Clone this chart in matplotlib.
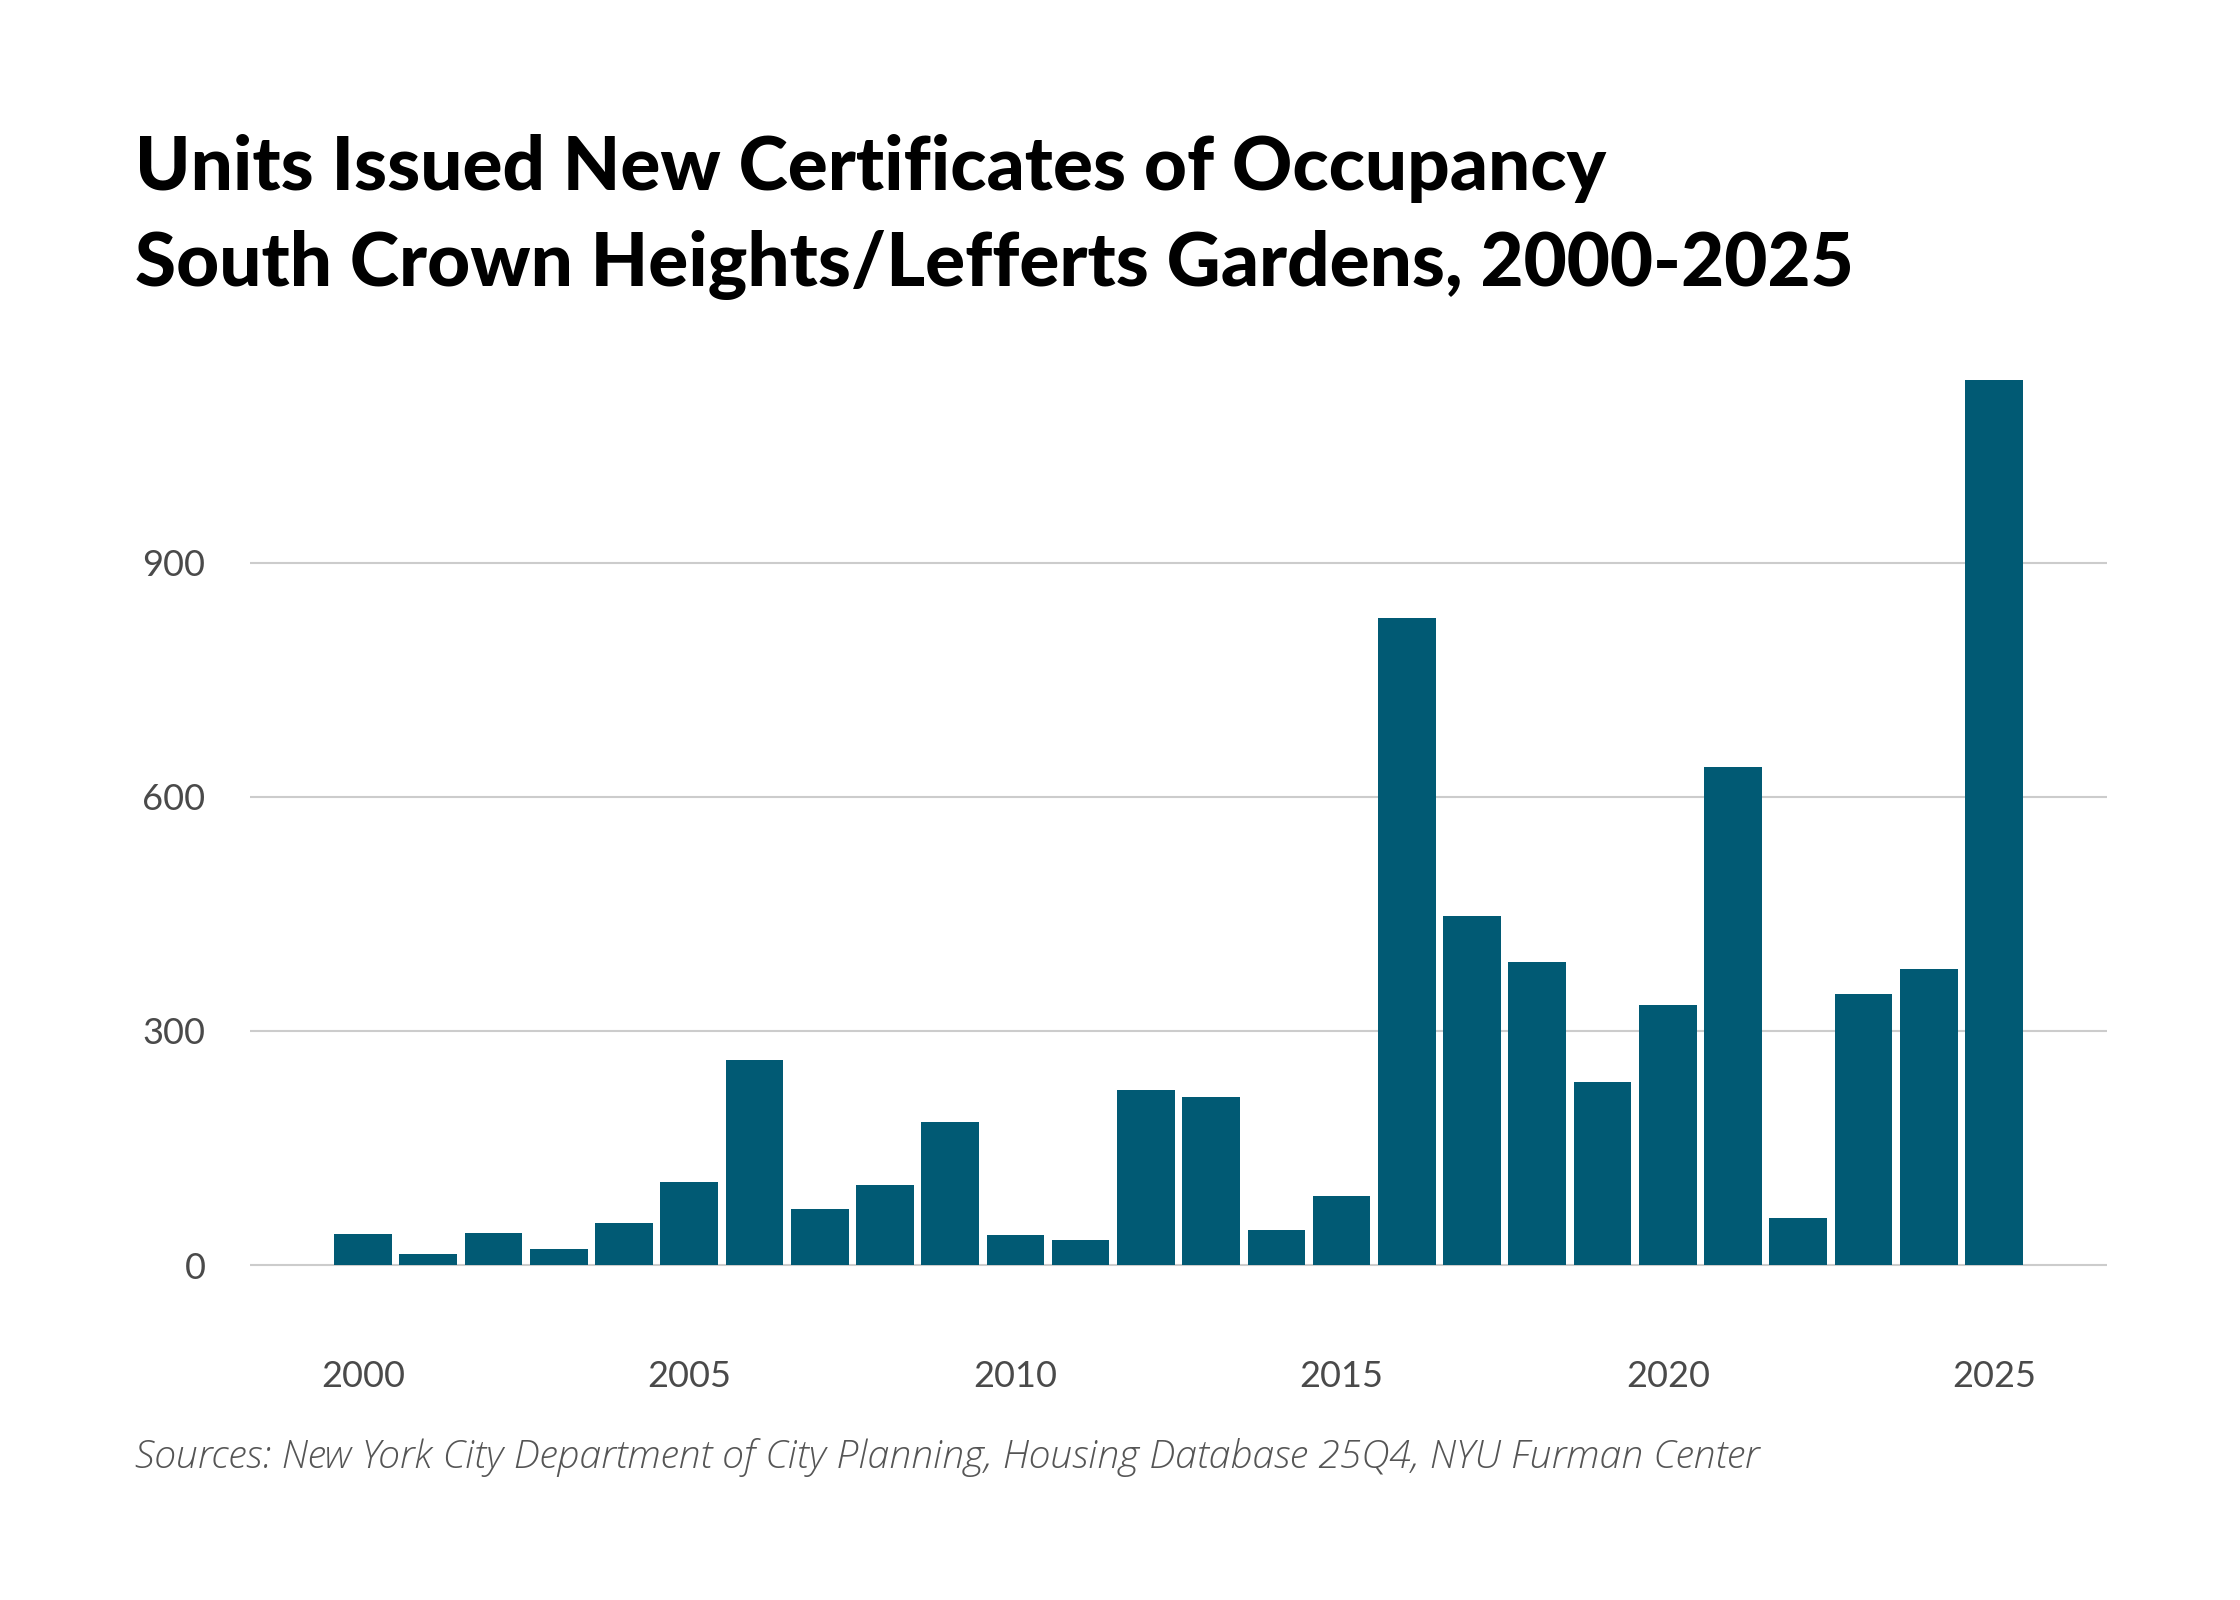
import matplotlib
matplotlib.use('Agg')
from matplotlib import pyplot as plt

years = [2000, 2001, 2002, 2003, 2004, 2005, 2006, 2007, 2008, 2009,
         2010, 2011, 2012, 2013, 2014, 2015, 2016, 2017, 2018, 2019,
         2020, 2021, 2022, 2023, 2024, 2025]

units = [40, 14, 41, 20, 54, 106, 263, 72, 103, 183,
         38, 32, 224, 215, 45, 89, 829, 447, 388, 235,
         333, 638, 60, 347, 379, 1134]

y_ticks = [0, 300, 600, 900]
x_ticks = [2000, 2005, 2010, 2015, 2020, 2025]

title_lines = [
    'Units Issued New Certificates of Occupancy',
    'South Crown Heights/Lefferts Gardens, 2000-2025',
]
source = 'Sources: New York City Department of City Planning, Housing Database 25Q4, NYU Furman Center'

bar_color = '#015a74'
grid_color = '#cccccc'
tick_color = '#4a4a4a'

plt.rcParams['font.family'] = ['Lato', 'DejaVu Sans']

fig = plt.figure(figsize=(22.4, 16), dpi=100)
ax = fig.add_axes([250 / 2240, 0.1606, 1857 / 2240, 0.6144])

ax.bar(years, units, width=0.885, color=bar_color, zorder=2)

ax.set_xlim(1998.27, 2026.73)
ax.set_ylim(-100, 1160)

ax.set_yticks(y_ticks)
ax.set_xticks(x_ticks)
ax.yaxis.grid(True, color=grid_color, linewidth=1.5, zorder=0)
ax.set_axisbelow(True)

for side in ['top', 'right', 'bottom', 'left']:
    ax.spines[side].set_visible(False)

ax.tick_params(axis='both', length=0, labelsize=26, labelcolor=tick_color)
ax.tick_params(axis='y', pad=32)
ax.tick_params(axis='x', pad=12)

fig.text(135 / 2240, 1 - 190 / 1600, title_lines[0], fontsize=53.7,
         fontweight='black', color='black', va='baseline', ha='left')
fig.text(135 / 2240, 1 - 286 / 1600, title_lines[1], fontsize=53.7,
         fontweight='black', color='black', va='baseline', ha='left')

fig.text(135 / 2240, 1 - 1468 / 1600, source, fontsize=28.3,
         fontstyle='italic', fontweight='light', color='#555555',
         family=['Open Sans', 'DejaVu Sans'], va='baseline', ha='left')

fig.savefig('out.png', dpi=100, facecolor='white')
